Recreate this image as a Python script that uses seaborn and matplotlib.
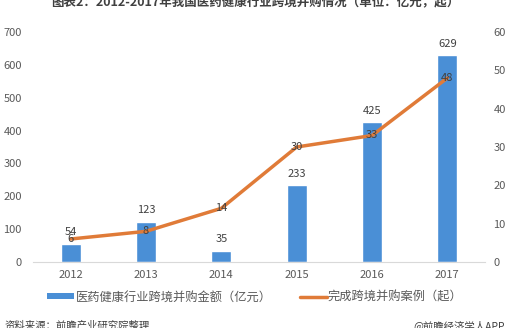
import numpy as np
import pandas as pd
import matplotlib
matplotlib.use("Agg")
import matplotlib.pyplot as plt
import seaborn as sns
from matplotlib.patches import Patch
from matplotlib.lines import Line2D

years = ["2012", "2013", "2014", "2015", "2016", "2017"]
amount = [54, 123, 35, 233, 425, 629]   # 亿元
cases = [6, 8, 14, 30, 33, 48]          # 起
left_ticks = [0, 100, 200, 300, 400, 500, 600, 700]
right_ticks = [0, 10, 20, 30, 40, 50, 60]
title = "图表2：2012-2017年我国医药健康行业跨境并购情况（单位：亿元，起）"
bar_name = "医药健康行业跨境并购金额（亿元）"
line_name = "完成跨境并购案例（起）"
source = "资料来源：前瞻产业研究院整理"
brand = "@前瞻经济学人APP"

sns.set_theme(style="white")
plt.rcParams['font.family'] = ['Noto Sans CJK SC', 'DejaVu Sans']

BLUE = "#4a8fd6"
ORANGE = "#e07b38"
GREY = "#595959"
DARK = "#404040"

df = pd.DataFrame({"year": years, "amount": amount, "cases": cases})
df["pos"] = np.arange(len(years))

fig = plt.figure(figsize=(5.10, 3.28), dpi=100)
ax = fig.add_axes([33/510, 1-262/328, (485-33)/510, (262-32)/328])

sns.barplot(data=df, x="year", y="amount", color=BLUE, width=0.265,
            saturation=1, ax=ax, zorder=2)
ax.set_xlim(-0.5, len(years) - 0.5)
ax.set_ylim(0, 700)
ax.set_yticks(left_ticks)
ax.set_xlabel("")
ax.set_ylabel("")
for s in ["top", "left", "right"]:
    ax.spines[s].set_visible(False)
ax.spines["bottom"].set_color("#d9d9d9")
ax.spines["bottom"].set_linewidth(0.8)
ax.tick_params(axis="both", length=0, labelsize=8, colors=GREY)
ax.tick_params(axis="y", pad=8)
ax.tick_params(axis="x", pad=6)

for i, v in enumerate(amount):
    ax.annotate(str(v), (i, v), xytext=(0, 8.5), textcoords="offset points",
                ha="center", va="center", fontsize=8, color=DARK)

ax2 = ax.twinx()
sns.lineplot(data=df, x="pos", y="cases", color=ORANGE, linewidth=2.5,
             ax=ax2, zorder=3)
ax2.set_ylim(0, 60)
ax2.set_yticks(right_ticks)
ax2.set_xlim(-0.5, len(years) - 0.5)
ax2.set_xlabel("")
ax2.set_ylabel("")
for s in ["top", "left", "right", "bottom"]:
    ax2.spines[s].set_visible(False)
ax2.tick_params(axis="y", length=0, labelsize=8, colors=GREY, pad=6)

for i, v in enumerate(cases):
    ax2.text(i, v, str(v), ha="center", va="center", fontsize=8, color=DARK, zorder=4)

handles = [Patch(facecolor=BLUE, edgecolor="none"),
           Line2D([0], [0], color=ORANGE, linewidth=2.5)]
fig.legend(handles, [bar_name, line_name], loc="center",
           bbox_to_anchor=(0.5, 1-297/328), ncol=2, frameon=False,
           fontsize=8.8, labelcolor=GREY, handlelength=2.2, handleheight=0.45,
           handletextpad=0.1, columnspacing=2.3)

fig.text(0.5, 1-2/328, title, ha="center", va="center", fontsize=9,
         fontweight="bold", color=DARK)
fig.text(5/510, 1-326/328, source, ha="left", va="center", fontsize=7.5, color=DARK)
fig.text(505/510, 1-326/328, brand, ha="right", va="center", fontsize=7.5, color=DARK)

fig.savefig("out.png", dpi=100)
